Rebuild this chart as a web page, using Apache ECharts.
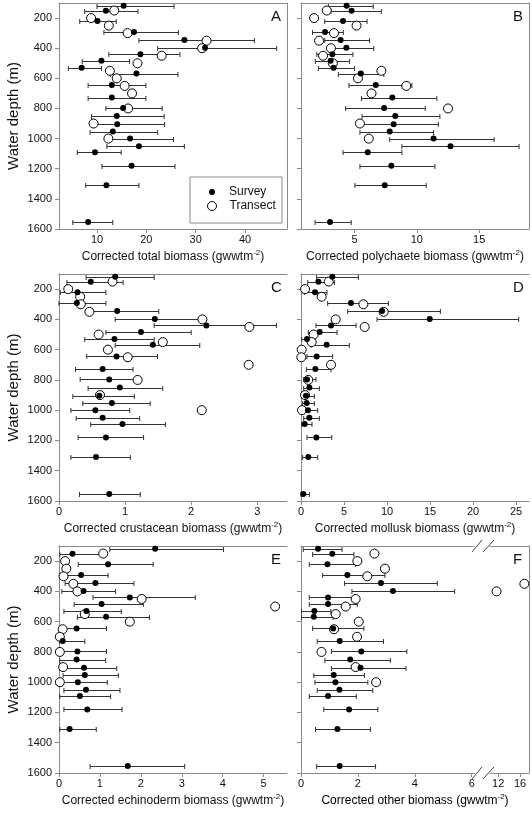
<!DOCTYPE html>
<html><head><meta charset="utf-8">
<script src="https://cdn.jsdelivr.net/npm/echarts@6/dist/echarts.min.js"></script>
<style>html,body{margin:0;padding:0;background:#fff}#c{width:532px;height:813px}</style>
</head><body><div id="c"></div>
<script>
// ---- data ----
const depthSurvey = [118,152,220,292,345,397,440,484,530,568,645,728,797,850,905,953,1000,1050,1091,1180,1310,1553];
const depthTransect = [150,200,250,300,350,400,450,500,550,600,650,700,800,900,1000];
const depthTicks = [200,400,600,800,1000,1200,1400,1600];

// A: total
const totalSurvey = [15.4,11.8,10.1,17.5,27.7,31.9,18.8,10.9,6.9,18.0,13.0,13.0,15.3,14.0,14.1,13.2,16.7,18.5,9.6,17.0,11.9,8.2];
const totalLow    = [10.0,7.5,6.5,11.4,18.5,22.3,12.4,7.0,4.2,12.7,8.2,8.2,11.8,8.9,8.9,8.6,12.8,12.0,6.0,11.0,7.7,5.1];
const totalHigh   = [25.6,18.3,13.9,26.5,41.9,46.4,26.8,16.6,10.9,26.4,19.9,19.9,23.2,23.6,23.7,22.3,25.5,27.7,14.9,25.8,18.5,13.2];
const totalTransect = [13.5,8.8,12.4,16.2,32.2,31.3,23.1,18.2,12.6,14.0,15.6,17.1,16.3,9.3,12.3];
const totalTicks = [10,20,30,40];

// B: polychaete
const polySurvey = [4.36,4.76,4.07,2.63,3.88,4.34,3.22,3.08,3.32,5.5,6.7,8.03,7.37,8.27,8.14,7.82,11.34,12.7,6.06,7.95,7.42,3.03];
const polyLow    = [2.9,3.1,2.6,1.62,2.6,3.16,1.97,1.85,2.1,3.7,4.55,5.56,4.28,5.6,5.69,5.43,7.82,8.8,4.07,5.43,5.03,1.83];
const polyHigh   = [6.5,7.15,6.0,4.1,6.2,6.54,4.87,4.6,5.0,7.35,9.6,11.6,10.67,11.85,11.72,11.34,16.2,18.2,8.8,11.45,10.75,4.73];
const polyTransect = [2.77,1.75,5.16,3.35,2.15,3.1,2.47,3.26,7.15,5.27,9.15,6.36,12.5,5.43,6.14];
const polyTicks = [5,10,15];

// C: crustacean
const crusSurvey = [0.85,0.48,0.28,0.27,0.88,1.45,2.23,1.24,0.84,1.42,0.87,0.66,0.76,0.92,0.61,0.80,0.55,0.66,0.96,0.71,0.56,0.76];
const crusLow    = [0.41,0.12,0.02,0.0,0.41,0.85,1.44,0.71,0.39,0.85,0.42,0.25,0.32,0.44,0.21,0.36,0.18,0.26,0.48,0.29,0.18,0.31];
const crusHigh   = [1.44,0.97,0.71,0.71,1.51,2.13,3.29,2.0,1.44,2.13,1.49,1.12,1.18,1.57,1.14,1.38,1.07,1.22,1.61,1.28,1.08,1.23];
const crusTransect = [0.81,0.14,0.32,0.33,0.46,2.17,2.88,0.60,1.57,0.74,1.04,2.87,1.19,0.62,2.16];
const crusTicks = [0,1,2,3];

// D: mollusk
const mollSurvey = [3.64,2.02,1.63,5.81,9.42,14.96,3.49,2.17,0.70,2.98,1.82,1.67,0.70,0.97,0.58,0.66,0.81,0.97,0.43,1.78,0.85,0.27];
const mollLow    = [1.82,0.78,0.39,3.10,5.43,8.84,1.74,0.85,0.08,1.16,0.70,0.62,0.31,0.31,0.08,0.19,0.27,0.31,0.08,0.70,0.19,0.0];
const mollHigh   = [6.67,3.88,3.02,10.16,16.2,25.3,6.40,4.19,1.47,5.62,3.68,3.49,1.74,2.13,1.55,1.55,1.94,2.13,1.28,3.57,1.94,0.97];
const mollTransect = [3.22,0.47,2.40,7.25,9.61,4.03,7.40,1.47,1.24,0.08,0.04,3.49,0.85,0.47,0.12];
const mollTicks = [0,5,10,15,20,25];

// E: echinoderm
const echSurvey = [2.35,0.33,1.20,0.54,0.89,0.60,1.73,1.04,0.67,1.15,0.43,0.09,0.45,0.43,0.61,0.63,0.46,0.66,0.51,0.69,0.26,1.68];
const echLow    = [1.24,0.02,0.47,0.02,0.15,0.07,0.83,0.37,0.12,0.45,0.04,0.01,0.02,0.02,0.02,0.10,0.02,0.12,0.02,0.12,0.02,0.76];
const echHigh   = [4.02,1.05,2.30,1.20,1.83,1.38,3.33,2.06,1.52,2.21,1.16,0.63,1.16,1.14,1.41,1.45,1.18,1.49,1.26,1.54,0.91,3.07];
const echTransect = [1.08,0.15,0.18,0.11,0.35,0.45,2.02,5.28,0.63,1.73,0.09,0.02,0.02,0.10,0.02];
const echTicks = [0,1,2,3,4,5];

// F: other (broken axis)
const otherSurvey = [0.60,1.10,0.93,1.63,2.81,3.23,0.95,0.95,0.47,0.45,1.13,1.36,2.12,1.73,2.09,1.15,1.21,1.35,0.95,1.69,1.28,1.36];
const otherLow    = [0.08,0.41,0.29,0.76,1.53,1.79,0.29,0.29,0.02,0.02,0.41,0.57,1.07,0.84,1.07,0.45,0.49,0.57,0.29,0.80,0.51,0.55];
const otherHigh   = [1.44,1.86,1.91,2.95,4.79,5.40,1.98,1.98,1.05,1.13,2.21,2.90,3.72,3.14,3.69,2.23,2.35,2.52,1.94,2.70,2.44,2.62];
const otherTransect = [2.58,1.98,2.95,2.33,16.8,11.7,1.92,1.57,1.22,2.03,1.16,1.97,0.72,1.92,2.64];
const otherTicksLow = [0,2,4,6];
const otherTicksHigh = [12,16];

// ---- layout & style ----
const FONT = '"Liberation Sans", Arial, sans-serif';
const FRAME = '#8a8a8a';
const cols = [[59, 287], [301, 529]];
const rows = [[3, 229], [274, 501], [546, 773]];
const fBreak = [474, 490];

const grids = [], xAxes = [], yAxes = [], series = [], graphics = [];

function titleRich(label) {
  return '{t|Corrected ' + label + ' biomass (gwwtm}{s|-2}{t|)}';
}
const richStyle = {
  t: {fontSize: 12, color: '#111', fontFamily: FONT},
  s: {fontSize: 8, color: '#111', fontFamily: FONT, padding: [0, 0, 7, 0]}
};
const plain = v => String(v);

function barItem(params, api) {
  const d = api.value(2);
  const p1 = api.coord([api.value(0), d]);
  const p2 = api.coord([api.value(1), d]);
  const y = Math.round(p1[1]) + 0.5;
  const h = 2.5;
  const st = {stroke: '#333', lineWidth: 1};
  return {type: 'group', children: [
    {type: 'line', shape: {x1: p1[0], y1: y, x2: p2[0], y2: y}, style: st},
    {type: 'line', shape: {x1: p1[0], y1: y - h, x2: p1[0], y2: y + h}, style: st},
    {type: 'line', shape: {x1: p2[0], y1: y - h, x2: p2[0], y2: y + h}, style: st}
  ]};
}

function addGrid(l, r, t, b) {
  grids.push({left: l, top: t, width: r - l, height: b - t, containLabel: false});
  return grids.length - 1;
}

function addAxes(gi, xmin, xmax, xticks, o) {
  const line = {show: true, lineStyle: {color: FRAME, width: 1}};
  const xi = xAxes.length;
  xAxes.push({
    gridIndex: gi, type: 'value', position: 'bottom', min: xmin, max: xmax,
    axisLine: line, splitLine: {show: false},
    axisTick: {show: true, length: 4, lineStyle: {color: FRAME}, customValues: xticks},
    axisLabel: {show: true, customValues: xticks, formatter: plain, fontSize: 11, color: '#111', fontFamily: FONT, margin: 5},
    name: o.xName || '', nameLocation: 'middle', nameGap: 20,
    nameTextStyle: {rich: richStyle}
  });
  xAxes.push({
    gridIndex: gi, type: 'value', position: 'top', min: xmin, max: xmax,
    axisLine: line, splitLine: {show: false}, axisTick: {show: false}, axisLabel: {show: false}
  });
  const yi = yAxes.length;
  yAxes.push({
    gridIndex: gi, type: 'value', position: 'left', inverse: true, min: 100, max: 1600,
    axisLine: o.leftLine === false ? {show: false} : line, splitLine: {show: false},
    axisTick: {show: o.leftLine !== false, length: 4, lineStyle: {color: FRAME}, customValues: depthTicks},
    axisLabel: {show: !!o.yLabels, customValues: depthTicks, formatter: plain, fontSize: 11, color: '#111', fontFamily: FONT, margin: 7},
    name: o.yLabels ? 'Water depth (m)' : '', nameLocation: 'middle', nameGap: 38,
    nameTextStyle: {fontSize: 15, color: '#111', fontFamily: FONT}
  });
  yAxes.push({
    gridIndex: gi, type: 'value', position: 'right', inverse: true, min: 100, max: 1600,
    axisLine: o.rightLine === false ? {show: false} : line, splitLine: {show: false},
    axisTick: {show: false}, axisLabel: {show: false}
  });
  return {xi, yi};
}

function addSeries(ax, survey, low, high, transect, depthsT) {
  const dT = depthsT || depthTransect;
  if (low) {
    series.push({
      type: 'custom', name: 'bars', xAxisIndex: ax.xi, yAxisIndex: ax.yi, z: 2,
      renderItem: barItem, encode: {x: [0, 1], y: 2},
      data: low.map((v, i) => [v, high[i], depthSurvey[i]])
    });
  }
  if (transect) {
    series.push({
      type: 'scatter', name: 'Transect', xAxisIndex: ax.xi, yAxisIndex: ax.yi, z: 3,
      symbol: 'circle', symbolSize: 9,
      itemStyle: {color: '#fff', borderColor: '#000', borderWidth: 1, opacity: 1},
      data: transect.map((v, i) => [v, dT[i]])
    });
  }
  if (survey) {
    series.push({
      type: 'scatter', name: 'Survey', xAxisIndex: ax.xi, yAxisIndex: ax.yi, z: 4,
      symbol: 'circle', symbolSize: 6,
      itemStyle: {color: '#000', opacity: 1},
      data: survey.map((v, i) => [v, depthSurvey[i]])
    });
  }
}

function panelLetter(letter, r, t) {
  graphics.push({type: 'text', left: r - 16, top: t + 6, z: 10,
    style: {text: letter, fontSize: 15, fill: '#111', fontFamily: FONT}});
}

// A
let g = addGrid(cols[0][0], cols[0][1], rows[0][0], rows[0][1]);
let ax = addAxes(g, 2.3, 48.5, totalTicks, {yLabels: true, xName: titleRich('total')});
addSeries(ax, totalSurvey, totalLow, totalHigh, totalTransect);
panelLetter('A', cols[0][1], rows[0][0]);
// B
g = addGrid(cols[1][0], cols[1][1], rows[0][0], rows[0][1]);
ax = addAxes(g, 0.7, 19, polyTicks, {xName: titleRich('polychaete')});
addSeries(ax, polySurvey, polyLow, polyHigh, polyTransect);
panelLetter('B', cols[1][1], rows[0][0]);
// C
g = addGrid(cols[0][0], cols[0][1], rows[1][0], rows[1][1]);
ax = addAxes(g, 0, 3.45, crusTicks, {yLabels: true, xName: titleRich('crustacean')});
addSeries(ax, crusSurvey, crusLow, crusHigh, crusTransect);
panelLetter('C', cols[0][1], rows[1][0]);
// D
g = addGrid(cols[1][0], cols[1][1], rows[1][0], rows[1][1]);
ax = addAxes(g, 0, 26.5, mollTicks, {xName: titleRich('mollusk')});
addSeries(ax, mollSurvey, mollLow, mollHigh, mollTransect);
panelLetter('D', cols[1][1], rows[1][0]);
// E
g = addGrid(cols[0][0], cols[0][1], rows[2][0], rows[2][1]);
ax = addAxes(g, 0, 5.57, echTicks, {yLabels: true, xName: titleRich('echinoderm')});
addSeries(ax, echSurvey, echLow, echHigh, echTransect);
panelLetter('E', cols[0][1], rows[2][0]);
// F (two pieces around the axis break)
const fLowMax = 6.08;
g = addGrid(cols[1][0], fBreak[0], rows[2][0], rows[2][1]);
ax = addAxes(g, 0, fLowMax, otherTicksLow, {rightLine: false});
const fLowT = [], fLowD = [], fHighT = [], fHighD = [];
otherTransect.forEach((v, i) => {
  if (v <= fLowMax) { fLowT.push(v); fLowD.push(depthTransect[i]); }
  else { fHighT.push(v); fHighD.push(depthTransect[i]); }
});
addSeries(ax, otherSurvey, otherLow, otherHigh, fLowT, fLowD);
g = addGrid(fBreak[1], cols[1][1], rows[2][0], rows[2][1]);
ax = addAxes(g, 10.5, 17.65, otherTicksHigh, {leftLine: false});
addSeries(ax, null, null, null, fHighT, fHighD);
panelLetter('F', cols[1][1], rows[2][0]);

// F axis title (spans both pieces) and break marks
graphics.push({type: 'text', z: 10,
  x: (cols[1][0] + cols[1][1]) / 2, y: rows[2][1] + 20,
  style: {text: titleRich('other'), rich: richStyle, align: 'center', verticalAlign: 'top', fontFamily: FONT}});
[rows[2][0], rows[2][1]].forEach(yy => {
  [[fBreak[0] - 2, fBreak[0] + 8], [fBreak[0] + 9, fBreak[1] + 4]].forEach(s => {
    graphics.push({type: 'line', z: 10,
      shape: {x1: s[0], y1: yy + 6, x2: s[1], y2: yy - 6},
      style: {stroke: '#444', lineWidth: 1}});
  });
});

// legend box in panel A
const lgBox = {x: 190, y: 177, w: 92, h: 46};
graphics.push({type: 'rect', z: 5,
  shape: {x: lgBox.x, y: lgBox.y, width: lgBox.w, height: lgBox.h},
  style: {fill: '#fff', stroke: FRAME, lineWidth: 1}});

const chart = echarts.init(document.getElementById('c'), null, {renderer: 'canvas'});
chart.setOption({
  animation: false,
  backgroundColor: '#fff',
  grid: grids, xAxis: xAxes, yAxis: yAxes, series: series,
  legend: [
    {data: ['Survey'], left: lgBox.x + 19, top: lgBox.y + 9, itemWidth: 6, itemHeight: 6, padding: 0,
     selectedMode: false, z: 20, textStyle: {fontSize: 12, color: '#111', fontFamily: FONT, padding: [0, 0, 0, 9]}},
    {data: ['Transect'], left: lgBox.x + 17, top: lgBox.y + 23, itemWidth: 9, itemHeight: 9, padding: 0,
     selectedMode: false, z: 20, itemStyle: {borderWidth: 1, borderColor: '#000', color: '#fff'},
     textStyle: {fontSize: 12, color: '#111', fontFamily: FONT, padding: [0, 0, 0, 8]}}
  ],
  graphic: graphics
});
</script></body></html>
